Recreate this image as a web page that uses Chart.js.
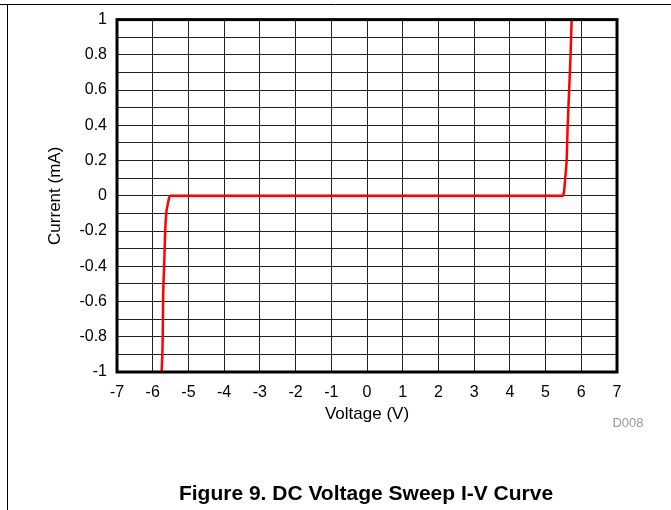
<!DOCTYPE html>
<html>
<head>
<meta charset="utf-8">
<title>DC Voltage Sweep I-V Curve</title>
<script src="https://cdn.jsdelivr.net/npm/chart.js@4/dist/chart.umd.min.js"></script>
<style>
  html, body { margin: 0; padding: 0; background: #fff; }
  canvas { display: block; }
</style>
</head>
<body>
<canvas id="iv" width="671" height="510"></canvas>
<script>
// I-V sweep
var voltage = [-5.75, -5.72, -5.71, -5.68, -5.65, -5.62, -5.58, -5.54, -5.5, 0, 5.48, 5.52, 5.55, 5.59, 5.62, 5.66, 5.7, 5.73];
var current = [-1, -0.8, -0.6, -0.4, -0.2, -0.1, -0.05, -0.01, 0, 0, 0, 0.03, 0.1, 0.2, 0.4, 0.6, 0.8, 1];

// axis ticks
var voltageTicks = [-7, -6, -5, -4, -3, -2, -1, 0, 1, 2, 3, 4, 5, 6, 7];
var currentGrid = [-1, -0.9, -0.8, -0.7, -0.6, -0.5, -0.4, -0.3, -0.2, -0.1, 0, 0.1, 0.2, 0.3, 0.4, 0.5, 0.6, 0.7, 0.8, 0.9, 1];
var currentLabels = ["-1", "-0.8", "-0.6", "-0.4", "-0.2", "0", "0.2", "0.4", "0.6", "0.8", "1"];

var points = voltage.map(function (v, i) {
  return { x: v, y: current[i] };
});

// frame, plot border and caption texts
var decorations = {
  id: "decorations",
  afterDraw: function (chart) {
    var c = chart.ctx;
    var a = chart.chartArea;
    c.save();
    // page frame
    c.strokeStyle = "#000";
    c.lineWidth = 1;
    c.beginPath();
    c.moveTo(0, 4.5);
    c.lineTo(671, 4.5);
    c.moveTo(7.5, 4.5);
    c.lineTo(7.5, 510);
    c.stroke();
    // plot box
    c.lineWidth = 3;
    c.strokeRect(a.left, a.top, a.right - a.left, a.bottom - a.top);
    // D008
    c.fillStyle = "#999";
    c.font = "13px 'Liberation Sans', Arial, sans-serif";
    c.textAlign = "center";
    c.textBaseline = "middle";
    c.fillText("D008", 628, 423);
    // figure caption
    c.fillStyle = "#000";
    c.font = "bold 21px 'Liberation Sans', Arial, sans-serif";
    c.fillText("Figure 9. DC Voltage Sweep I-V Curve", 366, 494);
    c.restore();
  },
};

var ctx = document.getElementById("iv").getContext("2d");
var ivChart = new Chart(ctx, {
  type: "scatter",
  data: {
    datasets: [
      {
        label: "Current",
        data: points,
        showLine: true,
        borderColor: "#ff0000",
        borderWidth: 2.5,
        pointRadius: 0,
        cubicInterpolationMode: "monotone",
      },
    ],
  },
  options: {
    responsive: false,
    animation: false,
    layout: {
      padding: { top: 19, right: 54, left: 0, bottom: 0 },
    },
    plugins: {
      legend: { display: false },
      tooltip: { enabled: false },
    },
    scales: {
      x: {
        type: "linear",
        min: -7,
        max: 7,
        afterBuildTicks: function (scale) {
          scale.ticks = voltageTicks.map(function (v) { return { value: v }; });
        },
        afterFit: function (scale) {
          scale.height = 138;
        },
        ticks: {
          autoSkip: false,
          maxRotation: 0,
          padding: 11,
          color: "#000",
          font: { family: "'Liberation Sans', Arial, sans-serif", size: 16 },
          callback: function (v) { return String(v); },
        },
        grid: { color: "#222", lineWidth: 1, drawTicks: false },
        border: { display: false },
        title: {
          display: true,
          text: "Voltage (V)",
          color: "#000",
          font: { family: "'Liberation Sans', Arial, sans-serif", size: 17 },
          padding: { top: 0, bottom: 85 },
        },
      },
      y: {
        type: "linear",
        min: -1,
        max: 1,
        afterBuildTicks: function (scale) {
          scale.ticks = currentGrid.map(function (v) { return { value: v }; });
        },
        afterFit: function (scale) {
          scale.width = 117;
        },
        ticks: {
          autoSkip: false,
          padding: 10,
          color: "#000",
          font: { family: "'Liberation Sans', Arial, sans-serif", size: 16 },
          callback: function (v) {
            var s = String(Math.round(v * 10) / 10);
            return currentLabels.indexOf(s) >= 0 ? s : "";
          },
        },
        grid: { color: "#222", lineWidth: 1, drawTicks: false },
        border: { display: false },
        title: {
          display: true,
          text: "Current (mA)",
          color: "#000",
          font: { family: "'Liberation Sans', Arial, sans-serif", size: 17 },
          padding: { top: 45, bottom: 0 },
        },
      },
    },
  },
  plugins: [decorations],
});
</script>
</body>
</html>
